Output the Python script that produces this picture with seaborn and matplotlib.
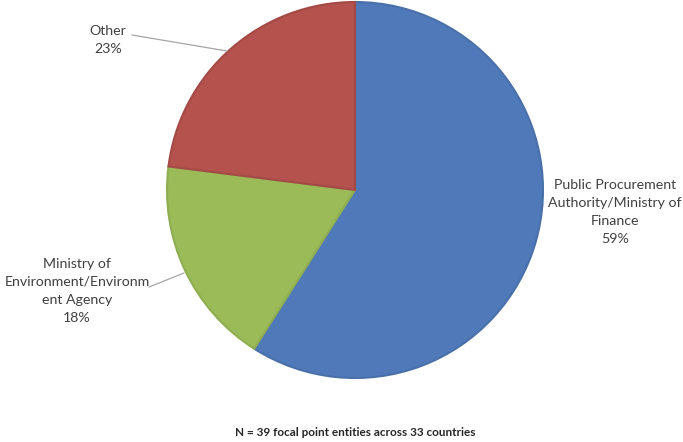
import matplotlib
matplotlib.use("Agg")
import matplotlib.pyplot as plt
import seaborn as sns

# Data
categories = ["Public Procurement\nAuthority/Ministry of\nFinance",
              "Ministry of\nEnvironment/Environm\nent Agency",
              "Other"]
shares = [59, 18, 23]
colors = ["#5079B9", "#9BBB59", "#B4524E"]
edges = ["#4A70AA", "#8FAE52", "#A44A46"]
note = "N = 39 focal point entities across 33 countries"

sns.set_theme(style="white")
plt.rcParams['font.family'] = ['Lato', 'DejaVu Sans']

fig = plt.figure(figsize=(6.83, 4.42), dpi=100)
ax = fig.add_axes([0, 0, 1, 1])

wedges, _ = ax.pie(shares, colors=colors, startangle=90, counterclock=False,
                   center=(355, 252), radius=188, frame=True,
                   wedgeprops=dict(linewidth=1.5))
for w, ec in zip(wedges, edges):
    w.set_edgecolor(ec)
ax.set_xlim(0, 683)
ax.set_ylim(0, 442)
ax.set_aspect('equal')
ax.axis('off')

txt = dict(ha='center', va='center', fontsize=10.2, color='#404040', linespacing=1.62)
ax.text(615, 442 - 212, f"{categories[0]}\n{shares[0]}%", **txt)
ax.text(77, 442 - 291, f"{categories[1]}\n{shares[1]}%", **txt)
ax.text(108, 442 - 40, f"{categories[2]}\n{shares[2]}%", **txt)

# leader lines
ax.plot([132, 227], [442 - 35, 442 - 51], color='#A6A6A6', lw=0.9)
ax.plot([149, 184], [442 - 287, 442 - 273], color='#A6A6A6', lw=0.9)

fig.text(355 / 683, 1 - 433 / 442, note, ha='center', va='center',
         fontsize=8.5, fontweight='bold', color='#262626')

fig.savefig("out.png", dpi=100)
